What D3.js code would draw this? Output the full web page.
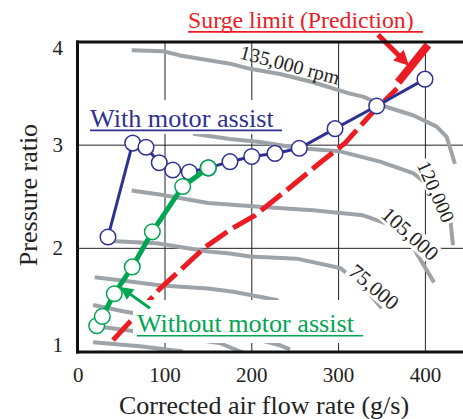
<!DOCTYPE html>
<html><head><meta charset="utf-8">
<script src="https://cdn.jsdelivr.net/npm/d3@7"></script>
<style>
body{margin:0;background:#fff}
svg{display:block}
svg text{font-family:'Liberation Serif','DejaVu Serif','Times New Roman',Times,serif}
</style>
</head><body>
<svg id="c" width="463" height="419" font-family="Liberation Serif, DejaVu Serif, serif"></svg>
<script>
// ---------- data ----------
const xTicks = [0, 100, 200, 300, 400];
const yTicks = [1, 2, 3, 4];
const xTitle = "Corrected air flow rate (g/s)";
const yTitle = "Pressure ratio";

// operating line with motor assist [flow g/s, pressure ratio]
const withAssist = [[34.3,2.11],[62.8,3.02],[78.1,2.98],[93.4,2.83],[108.9,2.76],[128,2.74],[149.9,2.78],
  [174.9,2.84],[199.9,2.89],[226.7,2.92],[254.7,2.97],[295.9,3.16],[343.9,3.38],[399.5,3.64]];
// operating line without motor assist
const withoutAssist = [[21.3,1.25],[27.8,1.34],[41.6,1.56],[62.3,1.82],[85.4,2.16],[120.4,2.60],[149.9,2.78]];
// predicted surge limit
const surgeLimit = [[40.1,1.11],[65.4,1.34],[94.2,1.61],[123.0,1.83],[146.1,2.01],[174.9,2.18],[203.7,2.32],
  [244.0,2.59],[278.6,2.83],[307.4,3.02],[336.2,3.29],[367.3,3.55]];
const surgeEnd = [[368.6,3.61],[403.0,3.97]];

// constant speed lines of the compressor map
const speed135k = [[61.6,3.92],[98,3.91],[117.3,3.87],[174.9,3.79],[198,3.74],[232.5,3.69],[270.5,3.61],
  [313.1,3.50],[328.1,3.47],[355.4,3.37],[385.7,3.29],[413,3.18],[424.5,3.08],[434,2.82]];
const speed120k = [[132.3,3.11],[174.9,3.06],[209.4,3.03],[255.5,2.97],[301.6,2.94],[347.7,2.84],
  [385.7,2.73],[405.3,2.60],[420.3,2.44],[428.3,2.31],[431.8,2.03]];
const speed105k = [[61.6,2.56],[95.7,2.52],[149.5,2.44],[212.9,2.40],[270.5,2.37],[328.1,2.32],
  [355.4,2.24],[378.5,2.15],[390,1.95],[409.9,1.67]];
const speed75k = [[36.7,2.07],[90.4,2.05],[149.5,1.97],[174.9,1.95],[198,1.92],[251.7,1.90],
  [301.6,1.81],[328.5,1.63],[349.7,1.42]];
const speedE = [[19,1.72],[57.4,1.68],[95.7,1.64],[149.5,1.61],[178.7,1.58],[228.7,1.50],[250,1.30]];
const speedF = [[17.1,1.45],[51.6,1.39],[140.3,1.26],[232.5,1.06],[244,1.02]];
const speedF2 = [[17.1,1.25],[51.6,1.21],[117.3,1.14],[163.4,1.08],[189.9,0.99]];
const speedG = [[17.1,1.09],[71.2,1.05],[120.7,1.00]];
const speedLines = [speed135k, speed120k, speed105k, speed75k, speedE, speedF, speedF2, speedG];

const speedLabels = ["135,000 rpm", "120,000", "105,000", "75,000"];
const speedLabelAt = [[244,3.78],[412.3,2.55],[382.3,2.14],[340.8,1.625]];
const speedLabelAngle = [15, 66, 42, 40];
const speedLabelSize = [20, 20, 21, 21];

const labelWith = "With motor assist";
const labelWithout = "Without motor assist";
const labelSurge = "Surge limit (Prediction)";

// ---------- drawing ----------
const FONT = "Liberation Serif, DejaVu Serif, serif";
const BLUE = "#2e3192", GREEN = "#00a651", RED = "#ec1c24", GRAY = "#9ea3a8";
const svg = d3.select("#c");
const x = d3.scaleLinear().domain([0, 400]).range([78.2, 425.4]);
const y = d3.scaleLinear().domain([1, 4]).range([351.5, 42]);
const W = 463;

svg.append("defs").append("clipPath").attr("id","plot")
  .append("rect").attr("x",78).attr("y",42).attr("width",W-78).attr("height",310);

const plot = svg.append("g").attr("clip-path","url(#plot)");

// grid
plot.selectAll("line.gv").data(xTicks.filter(d=>d>0)).join("line")
  .attr("x1",d=>x(d)).attr("x2",d=>x(d)).attr("y1",y(4)).attr("y2",y(1))
  .attr("stroke","#222").attr("stroke-width",1);
plot.selectAll("line.gh").data([2,3]).join("line")
  .attr("x1",x(0)).attr("x2",W).attr("y1",d=>y(d)).attr("y2",d=>y(d))
  .attr("stroke","#222").attr("stroke-width",1);

const line = d3.line().x(d=>x(d[0])).y(d=>y(d[1]));

// speed lines
plot.selectAll("path.sp").data(speedLines).join("path")
  .attr("d",line).attr("fill","none").attr("stroke",GRAY).attr("stroke-width",4)
  .attr("stroke-linejoin","round").attr("stroke-linecap","butt");

// surge limit
plot.append("path").attr("d",line(surgeLimit)).attr("fill","none").attr("stroke",RED)
  .attr("stroke-width",5).attr("stroke-dasharray","26,7");
plot.append("path").attr("d",line(surgeEnd)).attr("fill","none").attr("stroke",RED)
  .attr("stroke-width",8);

// blue line
plot.append("path").attr("d",line(withAssist)).attr("fill","none").attr("stroke",BLUE).attr("stroke-width",3);
plot.selectAll("circle.b").data(withAssist).join("circle").attr("class","b")
  .attr("cx",d=>x(d[0])).attr("cy",d=>y(d[1])).attr("r",7.8)
  .attr("fill","#fff").attr("stroke",BLUE).attr("stroke-width",1.5);
// green line
plot.append("path").attr("d",line(withoutAssist)).attr("fill","none").attr("stroke",GREEN).attr("stroke-width",5);
plot.selectAll("circle.g").data(withoutAssist).join("circle").attr("class","g")
  .attr("cx",d=>x(d[0])).attr("cy",d=>y(d[1])).attr("r",7.8)
  .attr("fill","#fff").attr("stroke",GREEN).attr("stroke-width",1.5);

// speed labels
speedLabels.forEach((t,i)=>{
  const g = svg.append("g").attr("transform",
    `translate(${x(speedLabelAt[i][0])},${y(speedLabelAt[i][1])}) rotate(${speedLabelAngle[i]})`);
  const tx = g.append("text").attr("text-anchor","middle").attr("dominant-baseline","central")
    .attr("font-family",FONT).attr("font-size",speedLabelSize[i]).attr("fill","#222").text(t);
  if (i>0) {
    const bb = tx.node().getBBox();
    g.insert("rect","text").attr("x",bb.x-2).attr("y",bb.y+2).attr("width",bb.width+4).attr("height",bb.height-4)
      .attr("fill","#fff");
  }
});

// annotation labels with white boxes
function annot(txt, px, py, color, size, ulEnd, box) {
  if (box) svg.append("rect").attr("x",box[0]).attr("y",box[1]).attr("width",box[2]).attr("height",box[3]).attr("fill","#fff");
  svg.append("text").attr("x",px).attr("y",py).attr("font-family",FONT).attr("font-size",size).attr("fill",color).text(txt);
  svg.append("line").attr("x1",px).attr("x2",ulEnd).attr("y1",py+3.8).attr("y2",py+3.8)
    .attr("stroke",color).attr("stroke-width",1.6);
}
annot(labelWith, x(13.6), y(3.18), BLUE, 26.2, 282, [86,100,200,34]);
annot(labelWithout, x(67.6), y(1.19), GREEN, 26.2, 363, [133,300,233,43]);
annot(labelSurge, x(126.5), y(4.135), RED, 23.8, 423, null);

// arrows
function arrow(from, to, color, sw, hl, hw) {
  const x0=x(from[0]), y0=y(from[1]), x1=x(to[0]), y1=y(to[1]);
  const dx=x1-x0, dy=y1-y0, L=Math.hypot(dx,dy), ux=dx/L, uy=dy/L;
  const bx=x1-ux*hl, by=y1-uy*hl;
  svg.append("line").attr("x1",x0).attr("y1",y0).attr("x2",bx+ux*2).attr("y2",by+uy*2)
    .attr("stroke",color).attr("stroke-width",sw);
  svg.append("polygon").attr("points",
    `${x1},${y1} ${bx-uy*hw},${by+ux*hw} ${bx+uy*hw},${by-ux*hw}`).attr("fill",color);
}
arrow([345.5,4.07],[381.2,3.77], RED, 5, 15, 7.5);
arrow([82.7,1.42],[48.2,1.625], GREEN, 3, 13, 6.5);

// frame
svg.append("line").attr("x1",77.5).attr("x2",77.5).attr("y1",40.5).attr("y2",353.5).attr("stroke","#111").attr("stroke-width",3);
svg.append("line").attr("x1",76).attr("x2",W).attr("y1",42).attr("y2",42).attr("stroke","#111").attr("stroke-width",3);
svg.append("line").attr("x1",76).attr("x2",W).attr("y1",352).attr("y2",352).attr("stroke","#111").attr("stroke-width",3);

// tick labels
svg.selectAll("text.yt").data(yTicks).join("text")
  .attr("x",63).attr("y",d=>Math.max(55, Math.min(352, y(d)+7)))
  .attr("text-anchor","end").attr("font-family",FONT).attr("font-size",21).attr("fill","#222").text(d=>d);
svg.selectAll("text.xt").data(xTicks).join("text")
  .attr("x",d=>x(d)).attr("y",382)
  .attr("text-anchor","middle").attr("font-family",FONT).attr("font-size",21).attr("fill","#222").text(d=>d);

// axis titles
svg.append("text").attr("x",264).attr("y",414).attr("text-anchor","middle").attr("font-family",FONT)
  .attr("font-size",26).attr("fill","#222").text(xTitle);
svg.append("text").attr("transform","translate(37,195) rotate(-90)").attr("text-anchor","middle").attr("font-family",FONT)
  .attr("font-size",26).attr("fill","#222").text(yTitle);
</script>
</body></html>
